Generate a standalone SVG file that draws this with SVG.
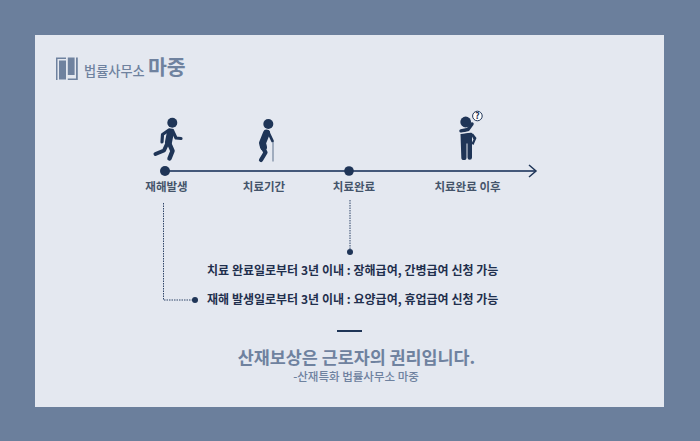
<svg xmlns="http://www.w3.org/2000/svg" width="700" height="441" viewBox="0 0 700 441">
<style>
text{font-family:"Noto Sans CJK KR","Noto Sans",sans-serif;}
.lab{font-size:11.500px;font-weight:700;fill:#44546a;text-anchor:middle;}
.note{font-size:12px;font-weight:700;fill:#1f2f4d;word-spacing:0.100px;}
.ink{fill:#1f3557;}
.limb{fill:none;stroke:#1f3557;stroke-linecap:round;stroke-linejoin:round;}
.dot{fill:none;stroke:#2f4468;stroke-width:1;stroke-dasharray:1.500 1;}
.logo{fill:#6f829f;}
</style>
<rect width="700" height="441" fill="#6b7f9c"/>
<rect x="35" y="35" width="629" height="372" fill="#e4e8f0"/>
<g id="logo">
<path class="logo" d="M56 57.500h10v1.500h-8.500v21h-1.500z"/>
<rect class="logo" x="59" y="60.500" width="7" height="19"/>
<rect class="logo" x="67.800" y="57.500" width="6.800" height="17.500"/>
<path class="logo" d="M76 57.500h1.800v22.500h-10v-1.500h8.200z"/>
<text x="84" y="76" font-size="13.200" fill="#6f829f" font-weight="500">법률사무소</text>
<text x="148" y="75" font-size="20.500" fill="#6f829f" font-weight="700">마중</text>
</g>
<g id="connectors">
<line x1="165" y1="171" x2="535" y2="171" stroke="#44587a" stroke-width="1.800"/>
<polyline points="529,165 536,171 529,177" fill="none" stroke="#1f3557" stroke-width="1.500"/>
<polyline class="dot" points="163.500,203 163.500,300 194,300"/>
<line class="dot" x1="350" y1="200" x2="350" y2="251"/>
</g>
<g id="node-accident">
<circle class="ink" cx="172.300" cy="122.700" r="5"/>
<path class="limb" stroke-width="7" d="M170.500 132L168.500 142"/>
<path class="limb" stroke-width="3.200" d="M169 130L162.500 134.500L162 142"/>
<path class="limb" stroke-width="3.200" d="M172.500 130.500L176 138L181 138.500"/>
<path class="limb" stroke-width="4.500" d="M169 143L172.500 151L169.500 158.500"/>
<path class="limb" stroke-width="4" d="M167 144L164 150.500L155.500 154"/>
<circle class="ink" cx="165" cy="171" r="5"/>
<text class="lab" x="166.500" y="191">재해발생</text>
</g>
<g id="node-treatment">
<circle class="ink" cx="268.300" cy="124" r="5"/>
<path class="limb" stroke-width="7" d="M266.500 133L262.500 143L263.500 147"/>
<path class="limb" stroke-width="4.200" d="M262 146L265.500 152.500L261 160"/>
<path class="limb" stroke-width="2.800" d="M268 131.500L272.500 141"/>
<line x1="273" y1="142" x2="273" y2="161.500" stroke="#8a99ae" stroke-width="1.500"/>
<text class="lab" x="264" y="191">치료기간</text>
</g>
<g id="node-complete">
<circle class="ink" cx="349" cy="171" r="4.800"/>
<text class="lab" x="354" y="191">치료완료</text>
<circle class="ink" cx="350" cy="252" r="3"/>
</g>
<g id="node-after">
<circle class="ink" cx="465.700" cy="122" r="5.400"/>
<path class="ink" d="M460.500 134l11 -1.500l1.500 1l3.500 4.500l-3 7l-1.500 -1v13.500a2 2 0 0 1 -4.500 0v-14h-1v14a2 2 0 0 1 -5.200 0zM472 136.500v6l1.500 -3z"/>
<path class="limb" stroke-width="3.500" d="M461 131L468 129.500L472 124"/>
<path fill="none" stroke="#e4e8f0" stroke-width="0.800" d="M460 133.300L471 131.800L473 133.800"/>
<circle cx="477.400" cy="116" r="4.800" fill="#fff" stroke="#1f3557"/>
<text x="477.400" y="119.200" font-size="9" font-weight="700" text-anchor="middle" fill="#1f3557">?</text>
<text class="lab" x="467.500" y="191">치료완료 이후</text>
</g>
<g id="notes">
<text class="note" x="207" y="274.500">치료 완료일로부터 3년 이내 : 장해급여, 간병급여 신청 가능</text>
<text class="note" x="207" y="303.500">재해 발생일로부터 3년 이내 : 요양급여, 휴업급여 신청 가능</text>
<circle class="ink" cx="195" cy="300" r="3"/>
</g>
<g id="footer">
<rect x="337" y="330" width="25" height="2" fill="#1f3557"/>
<text x="356.500" y="364" font-size="17.400" font-weight="700" fill="#6f829f" text-anchor="middle">산재보상은 근로자의 권리입니다.</text>
<text x="356" y="381" font-size="11.500" font-weight="500" fill="#6f829f" text-anchor="middle">-산재특화 법률사무소 마중</text>
</g>
</svg>
